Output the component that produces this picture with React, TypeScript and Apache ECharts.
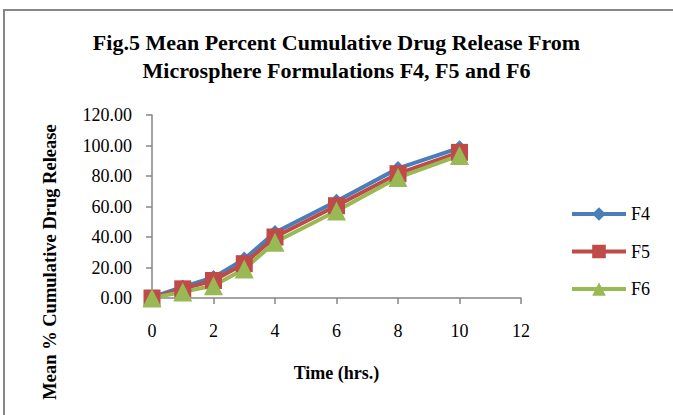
import React, { useEffect, useRef } from "react";
import * as echarts from "echarts";

const timeHrs = [0, 1, 2, 3, 4, 6, 8, 10];
const f4 = [0.5, 7.2, 13.5, 25.5, 43.0, 63.5, 85.0, 98.5];
const f5 = [0, 6.0, 11.5, 22.5, 40.0, 60.5, 81.5, 95.5];
const f6 = [0, 4.0, 8.0, 19.0, 36.5, 57.0, 79.0, 93.5];
const yTicks = [0, 20, 40, 60, 80, 100, 120];
const xTicks = [0, 2, 4, 6, 8, 10, 12];

const FONT = "'Liberation Serif', 'Times New Roman', serif";

export default function App() {
  const ref = useRef<HTMLDivElement>(null);
  useEffect(() => {
    if (!ref.current) return;
    const chart = echarts.init(ref.current, null, { renderer: "svg" });
    const pair = (ys: number[]) => timeHrs.map((x, i) => [x, ys[i]]);
    const mkSeries = (name: string, ys: number[], color: string, symbol: string, size: number) => ({
      name,
      type: "line",
      data: pair(ys),
      symbol,
      symbolSize: size,
      showSymbol: true,
      lineStyle: { color, width: 4 },
      itemStyle: { color },
      z: 2,
    });
    chart.setOption({
      animation: false,
      backgroundColor: "#ffffff",
      graphic: [
        {
          type: "rect",
          shape: { x: 4, y: 10, width: 720, height: 460 },
          style: { fill: "none", stroke: "#878787", lineWidth: 2 },
          silent: true,
        },
        {
          type: "text",
          x: 50,
          y: 262,
          rotation: Math.PI / 2,
          style: {
            text: "Mean % Cumulative Drug Release",
            fontFamily: FONT,
            fontWeight: "bold",
            fontSize: 18.5,
            fill: "#000",
            align: "center",
            verticalAlign: "middle",
          },
          silent: true,
        },
      ],
      title: {
        text: "Fig.5 Mean Percent Cumulative Drug Release From\nMicrosphere Formulations F4, F5 and F6",
        left: "center",
        top: 23,
        textStyle: {
          fontFamily: FONT,
          fontWeight: "bold",
          fontSize: 22,
          lineHeight: 28,
          color: "#000",
        },
      },
      legend: {
        orient: "vertical",
        left: 565,
        top: 200,
        itemWidth: 54,
        itemHeight: 17,
        itemGap: 19.5,
        lineStyle: { width: 4 },
        textStyle: { fontFamily: FONT, fontSize: 18, color: "#000" },
        data: ["F4", "F5", "F6"],
      },
      grid: { left: 152, right: 152, top: 115, bottom: 117, containLabel: false },
      xAxis: {
        type: "value",
        min: xTicks[0],
        max: xTicks[xTicks.length - 1],
        interval: 2,
        name: "Time (hrs.)",
        nameLocation: "middle",
        nameGap: 66,
        nameTextStyle: { fontFamily: FONT, fontWeight: "bold", fontSize: 18, color: "#000" },
        axisLine: { show: true, lineStyle: { color: "#868686", width: 1.5 } },
        axisTick: { show: true, inside: false, length: 6, lineStyle: { color: "#868686", width: 1.5 } },
        axisLabel: { fontFamily: FONT, fontSize: 18, color: "#000", margin: 24 },
        splitLine: { show: false },
      },
      yAxis: {
        type: "value",
        min: yTicks[0],
        max: yTicks[yTicks.length - 1],
        interval: 20,
        axisLine: { show: true, lineStyle: { color: "#868686", width: 1.5 } },
        axisTick: { show: true, inside: false, length: 6, lineStyle: { color: "#868686", width: 1.5 } },
        axisLabel: {
          fontFamily: FONT,
          fontSize: 18,
          color: "#000",
          margin: 20,
          formatter: (v: number) => v.toFixed(2),
        },
        splitLine: { show: false },
      },
      series: [
        mkSeries("F4", f4, "#4A7EBB", "diamond", 15),
        mkSeries("F5", f5, "#BE4B48", "rect", 17),
        mkSeries("F6", f6, "#98B954", "triangle", 19),
      ],
    });
    return () => chart.dispose();
  }, []);
  return (
    <div
      ref={ref}
      style={{ position: "fixed", left: 0, top: 0, width: 673, height: 415, background: "#fff" }}
    />
  );
}
